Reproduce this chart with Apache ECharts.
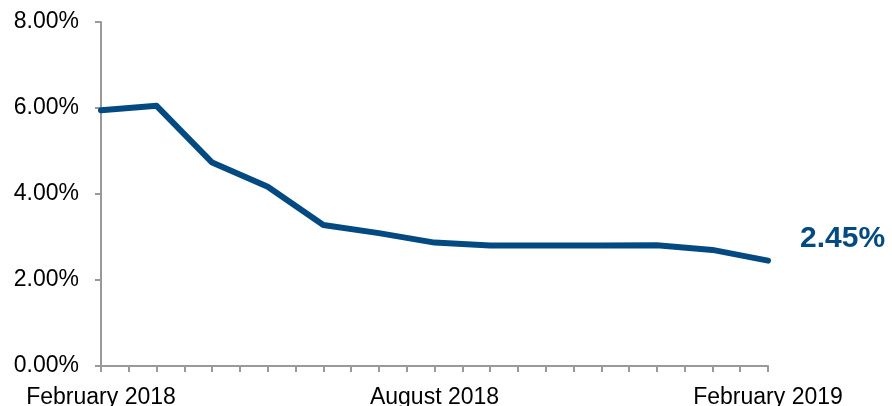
<!DOCTYPE html>
<html>
<head>
<meta charset="utf-8">
<script src="https://cdn.jsdelivr.net/npm/echarts@6/dist/echarts.min.js"></script>
<style>
html,body{margin:0;padding:0;background:#fff;}
#c{width:892px;height:406px;}
</style>
</head>
<body>
<div id="c"></div>
<script>
var months = ['February 2018','March 2018','April 2018','May 2018','June 2018','July 2018','August 2018','September 2018','October 2018','November 2018','December 2018','January 2019','February 2019'];
var rates = [5.95, 6.05, 4.73, 4.17, 3.28, 3.09, 2.87, 2.80, 2.80, 2.80, 2.81, 2.70, 2.45];
var xLabelIdx = [0, 6, 12];
var yTicks = [0, 2, 4, 6, 8];

var chart = echarts.init(document.getElementById('c'));
var lineColor = '#044a82';
chart.setOption({
  animation: false,
  grid: {left: 101, right: 124, top: 22, bottom: 40, containLabel: false, outerBoundsMode: 'none'},
  xAxis: {
    type: 'value', min: 0, max: months.length - 1, interval: 0.5,
    axisLine: {show: true, lineStyle: {color: '#999', width: 2}},
    axisTick: {show: true, length: 6, lineStyle: {color: '#999', width: 2}},
    splitLine: {show: false},
    axisLabel: {
      margin: 20, color: '#000', fontFamily: 'Liberation Sans, Arial', fontSize: 23,
      showMinLabel: true, showMaxLabel: true,
      formatter: function (v) {
        var i = Math.round(v);
        if (Math.abs(v - i) > 1e-6) return '';
        return xLabelIdx.indexOf(i) >= 0 ? months[i] : '';
      }
    }
  },
  yAxis: {
    type: 'value', min: yTicks[0], max: yTicks[yTicks.length - 1], interval: 2,
    axisLine: {show: true, lineStyle: {color: '#999', width: 2}},
    axisTick: {show: true, length: 6, lineStyle: {color: '#999', width: 2}},
    splitLine: {show: false},
    axisLabel: {
      margin: 22, color: '#000', fontFamily: 'Liberation Sans, Arial', fontSize: 23,
      formatter: function (v) { return v.toFixed(2) + '%'; }
    }
  },
  series: [{
    type: 'line',
    data: rates.map(function (r, i) { return [i, r]; }),
    showSymbol: false,
    lineStyle: {color: lineColor, width: 6, cap: 'round', join: 'round'},
    itemStyle: {color: lineColor},
    endLabel: {
      show: true, color: lineColor, fontFamily: 'Liberation Sans, Arial',
      fontWeight: 'bold', fontSize: 30, offset: [24, -22],
      formatter: function (p) { return p.value[1].toFixed(2) + '%'; }
    }
  }]
});
</script>
</body>
</html>
